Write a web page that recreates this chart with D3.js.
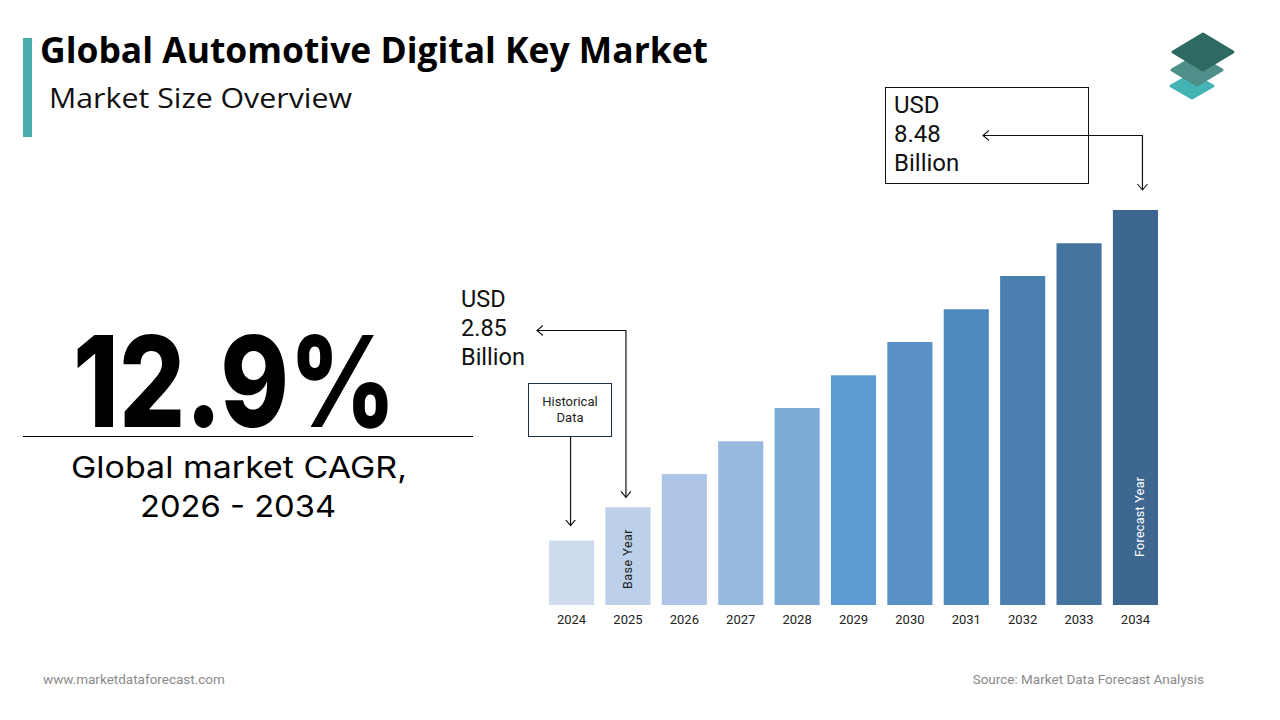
<!DOCTYPE html>
<html>
<head>
<meta charset="utf-8">
<script src="https://cdn.jsdelivr.net/npm/d3@7"></script>
<style>
  html, body { margin: 0; padding: 0; background: #fff; }
  svg { display: block; }
</style>
</head>
<body>
<svg id="chart" width="1280" height="720"></svg>
<script>
// Data
const years = ["2024", "2025", "2026", "2027", "2028", "2029", "2030", "2031", "2032", "2033", "2034"];
const marketSize = [2.22, 2.85, 3.48, 4.10, 4.73, 5.35, 5.98, 6.60, 7.23, 7.85, 8.48]; // USD billion
const barColors = ["#cfdcee", "#bdd0e9", "#aec5e5", "#98b9df", "#7eaad8", "#5f9bd3", "#5991c6", "#4e89be", "#4a7fb0", "#44739f", "#3d6690"];
const cagrText = "12.9%";
const cagrLabel = ["Global market CAGR,", "2026 - 2034"];
const startLabel = ["USD", "2.85", "Billion"];
const endLabel = ["USD", "8.48", "Billion"];

const svg = d3.select("#chart");

// Defs: open chevron arrowhead
svg.append("defs").append("marker")
    .attr("id", "chev")
    .attr("viewBox", "-6 -6 12 12")
    .attr("refX", 0)
    .attr("refY", 0)
    .attr("markerWidth", 12)
    .attr("markerHeight", 12)
    .attr("markerUnits", "userSpaceOnUse")
    .attr("orient", "auto")
    .append("path")
    .attr("d", "M -6,-5 L 0,0 L -6,5")
    .attr("fill", "none")
    .attr("stroke", "#111")
    .attr("stroke-width", 1.1);

// Header
svg.append("rect").attr("x", 23).attr("y", 38).attr("width", 9).attr("height", 99).attr("fill", "#4aacac");

svg.append("text")
    .attr("x", 40).attr("y", 63)
    .attr("font-family", "Open Sans")
    .attr("font-weight", 700)
    .attr("font-size", 36)
    .attr("textLength", 668)
    .attr("lengthAdjust", "spacingAndGlyphs")
    .attr("fill", "#000")
    .text("Global Automotive Digital Key Market");

svg.append("text")
    .attr("x", 49).attr("y", 108)
    .attr("font-family", "Open Sans")
    .attr("font-size", 28)
    .attr("textLength", 303)
    .attr("lengthAdjust", "spacingAndGlyphs")
    .attr("fill", "#111")
    .text("Market Size Overview");

// Logo: stacked diamonds
const logo = svg.append("g");
[
    { cx: 1192, cy: 86, w: 42, h: 24, c: "#44b3b3" },
    { cx: 1197, cy: 70, w: 50, h: 30, c: "#4e8f8a" },
    { cx: 1203, cy: 52, w: 60, h: 36, c: "#2f6a62" }
].forEach(d => {
    logo.append("path")
        .attr("d", `M${d.cx - d.w / 2},${d.cy} L${d.cx},${d.cy - d.h / 2} L${d.cx + d.w / 2},${d.cy} L${d.cx},${d.cy + d.h / 2} Z`)
        .attr("fill", d.c)
        .attr("stroke", d.c)
        .attr("stroke-linejoin", "round")
        .attr("stroke-width", 3);
});

// CAGR block
svg.append("text")
    .attr("x", 73).attr("y", 427)
    .attr("font-family", "Inter")
    .attr("font-weight", 800)
    .attr("font-size", 126)
    .attr("textLength", 323)
    .attr("lengthAdjust", "spacingAndGlyphs")
    .attr("fill", "#000")
    .text(cagrText);

svg.append("line")
    .attr("x1", 23).attr("x2", 473)
    .attr("y1", 436.5).attr("y2", 436.5)
    .attr("stroke", "#000").attr("stroke-width", 1.2);

svg.append("text")
    .attr("x", 239).attr("y", 478)
    .attr("text-anchor", "middle")
    .attr("font-family", "Inter")
    .attr("font-size", 30)
    .attr("textLength", 336)
    .attr("lengthAdjust", "spacingAndGlyphs")
    .attr("fill", "#000")
    .text(cagrLabel[0]);

svg.append("text")
    .attr("x", 238).attr("y", 517)
    .attr("text-anchor", "middle")
    .attr("font-family", "Inter")
    .attr("font-size", 30)
    .attr("textLength", 196)
    .attr("lengthAdjust", "spacingAndGlyphs")
    .attr("fill", "#000")
    .text(cagrLabel[1]);

// Bar chart
const x = d3.scaleBand()
    .domain(years)
    .range([549, 1158])
    .paddingInner(0.2)
    .paddingOuter(0);

const y = d3.scaleLinear()
    .domain([1, 8.48])
    .range([605, 210]);

const bars = svg.append("g");
bars.selectAll("rect")
    .data(years)
    .join("rect")
    .attr("x", d => x(d))
    .attr("y", (d, i) => y(marketSize[i]))
    .attr("width", x.bandwidth())
    .attr("height", (d, i) => y.range()[0] - y(marketSize[i]))
    .attr("fill", (d, i) => barColors[i]);

const xAxis = svg.append("g")
    .attr("transform", `translate(0, ${y.range()[0]})`)
    .call(d3.axisBottom(x).tickSize(0).tickPadding(10));
xAxis.select(".domain").remove();
xAxis.selectAll("text")
    .attr("font-family", "Roboto")
    .attr("font-size", 13)
    .attr("fill", "#222");

const cx = d => x(d) + x.bandwidth() / 2;

// In-bar labels
svg.append("text")
    .attr("transform", `translate(${cx("2025") + 4}, 589) rotate(-90)`)
    .attr("font-family", "Roboto")
    .attr("font-size", 12.5)
    .attr("letter-spacing", 0.5)
    .attr("fill", "#222")
    .text("Base Year");

svg.append("text")
    .attr("transform", `translate(${cx("2034") + 9}, 557) rotate(-90)`)
    .attr("font-family", "Roboto")
    .attr("font-size", 12.5)
    .attr("letter-spacing", 0.3)
    .attr("fill", "#fff")
    .text("Forecast Year");

// Historical data box + arrow to 2024
const hx = cx("2024");
svg.append("rect")
    .attr("x", 528.5).attr("y", 383.5).attr("width", 83).attr("height", 53)
    .attr("fill", "#fff").attr("stroke", "#1f2f45").attr("stroke-width", 1);
svg.append("text")
    .attr("text-anchor", "middle")
    .attr("font-family", "Roboto")
    .attr("font-size", 13)
    .attr("fill", "#222")
    .selectAll("tspan")
    .data(["Historical", "Data"])
    .join("tspan")
    .attr("x", 570)
    .attr("y", (d, i) => 406 + i * 16)
    .text(d => d);
svg.append("path")
    .attr("d", `M${hx - 1},437 L${hx - 1},${y(marketSize[0]) - 15}`)
    .attr("fill", "none").attr("stroke", "#111").attr("stroke-width", 1.2)
    .attr("marker-end", "url(#chev)");

// Start value annotation (2025)
const sx = cx("2025") - 2;
svg.append("text")
    .attr("font-family", "Roboto")
    .attr("font-size", 23.5)
    .attr("fill", "#111")
    .selectAll("tspan")
    .data(startLabel)
    .join("tspan")
    .attr("x", 461)
    .attr("y", (d, i) => 307 + i * 29)
    .text(d => d);
svg.append("path")
    .attr("d", `M${sx},${y(marketSize[1]) - 10} L${sx},330.5 L537,330.5`)
    .attr("fill", "none").attr("stroke", "#111").attr("stroke-width", 1.2)
    .attr("marker-end", "url(#chev)");

// End value annotation (2034)
const ex = cx("2034") + 7;
svg.append("rect")
    .attr("x", 885.5).attr("y", 87.5).attr("width", 203).attr("height", 96)
    .attr("fill", "#fff").attr("stroke", "#111").attr("stroke-width", 1);
svg.append("text")
    .attr("font-family", "Roboto")
    .attr("font-size", 24)
    .attr("fill", "#111")
    .selectAll("tspan")
    .data(endLabel)
    .join("tspan")
    .attr("x", 894)
    .attr("y", (d, i) => 113 + i * 29)
    .text(d => d);
svg.append("path")
    .attr("d", `M${ex},${y(marketSize[10]) - 20} L${ex},135.5 L983,135.5`)
    .attr("fill", "none").attr("stroke", "#111").attr("stroke-width", 1.2)
    .attr("marker-end", "url(#chev)");

// Down chevrons at the bar ends of the annotation arrows
[[sx, y(marketSize[1]) - 10], [ex, y(marketSize[10]) - 20]].forEach(p => {
    svg.append("path")
        .attr("d", `M${p[0] - 5},${p[1] - 6} L${p[0]},${p[1]} L${p[0] + 5},${p[1] - 6}`)
        .attr("fill", "none").attr("stroke", "#111").attr("stroke-width", 1.1);
});

// Footer
svg.append("text")
    .attr("x", 43).attr("y", 684)
    .attr("font-family", "Roboto")
    .attr("font-size", 13.5)
    .attr("fill", "#8a8a8a")
    .text("www.marketdataforecast.com");

svg.append("text")
    .attr("x", 1204).attr("y", 684)
    .attr("text-anchor", "end")
    .attr("font-family", "Roboto")
    .attr("font-size", 13.5)
    .attr("fill", "#8a8a8a")
    .text("Source: Market Data Forecast Analysis");
</script>
</body>
</html>
